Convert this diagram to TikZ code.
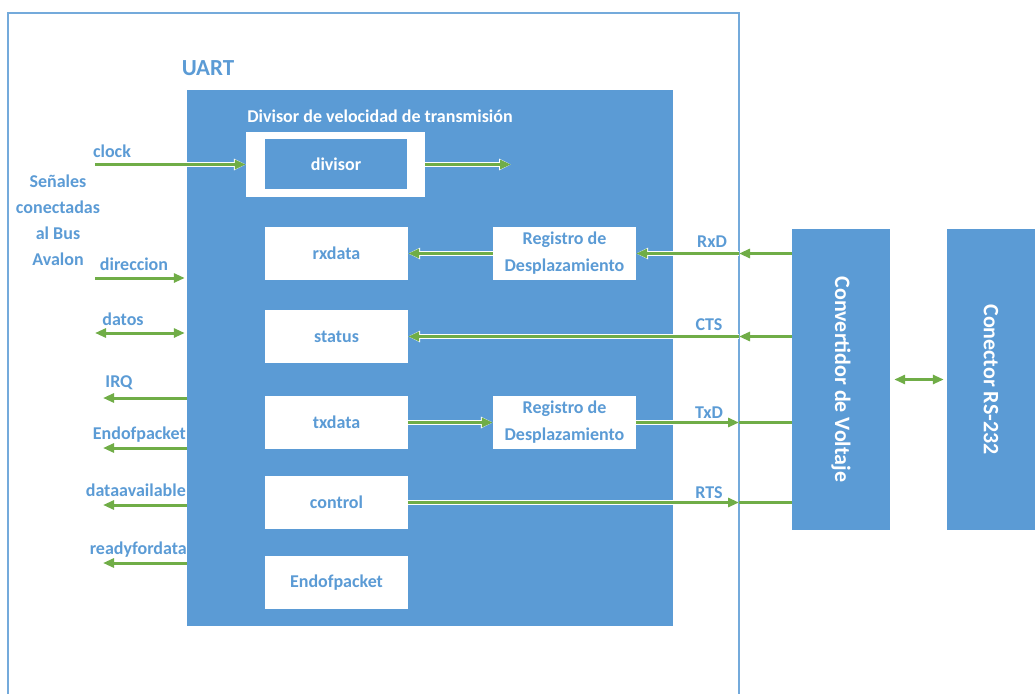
\documentclass[tikz,border=0pt]{standalone}
\usepackage{fontspec}
\setmainfont{Carlito}
\usetikzlibrary{arrows.meta}
\definecolor{bl}{HTML}{5B9BD5}
\definecolor{gr}{HTML}{70AD47}
\begin{document}
\begin{tikzpicture}[x=1pt,y=-1pt,
  fnt/.style={font=\bfseries\fontsize{18}{27}\selectfont},
  lbl/.style={fnt, text=bl, inner sep=0pt},
  blk/.style={fill=bl, draw=none, inner sep=0pt},
  wbox/.style={fnt, fill=white, draw=none, text=bl, minimum width=143pt, minimum height=53pt, inner sep=0pt, align=center},
  bbox/.style={fnt, fill=bl, draw=none, text=white, inner sep=0pt},
  lineg/.style={draw=gr, line width=3pt},
  arr/.style={lineg, -{Triangle[length=11pt,width=9pt]}, preaction={draw=white, line width=4.6pt, -{Triangle[length=12pt,width=11pt]}}},
  darr/.style={lineg, {Triangle[length=11pt,width=9pt]}-{Triangle[length=11pt,width=9pt]}},
  frame/.style={draw=bl!85, line width=1.3pt}
]
\useasboundingbox (0,0) rectangle (1035,693);
\draw[frame] (8,700) -- (8,13) -- (739,13) -- (739,700);

% main UART block
\node[blk, minimum width=486pt, minimum height=536pt] (uart) at (430,358) {};
\node[lbl, font=\bfseries\fontsize{23}{27}\selectfont] (uartlbl) at (208,68) {UART};

% divisor
\node[fnt, text=white, inner sep=0pt] (divt) at (380,116) {Divisor de velocidad de transmisión};
\node[fill=white, minimum width=179pt, minimum height=65pt, inner sep=0pt] (divo) at (335.5,164.5) {};
\node[bbox, minimum width=142pt, minimum height=50pt] (div) at (336,164) {divisor};

% registers
\node[wbox] (rx)  at (336.5,253.5) {rxdata};
\node[wbox] (st)  at (336.5,336.5) {status};
\node[wbox] (tx)  at (336.5,422.5) {txdata};
\node[wbox] (ctl) at (336.5,502.5) {control};
\node[wbox] (eop) at (336.5,582.5) {Endofpacket};
\node[wbox] (reg1) at (564.5,253.5) {Registro de\\Desplazamiento};
\node[wbox] (reg2) at (564.5,422.5) {Registro de\\Desplazamiento};

% right blocks (rotated: south = left side, north = right side)
\node[bbox, font=\bfseries\fontsize{22}{26}\selectfont, minimum width=301pt, minimum height=98pt, rotate=-90] (conv) at (841,379.5) {Convertidor de Voltaje};
\node[bbox, font=\bfseries\fontsize{22}{26}\selectfont, minimum width=301pt, minimum height=88pt, rotate=-90] (con) at (991,379.5) {Conector RS-232};
\draw[darr, shorten <=4pt, shorten >=3pt] (conv.north) -- (con.south);

% right labels
\node[lbl] (lrxd) at (712,242) {RxD};
\node[lbl] (lcts) at (709,325) {CTS};
\node[lbl] (ltxd) at (709,413) {TxD};
\node[lbl] (lrts) at (709,493) {RTS};

% right connectors
\coordinate (rxb)  at (739,253.5);
\coordinate (ctsb) at (739,336.5);
\coordinate (txb)  at (739,422.5);
\coordinate (rtsb) at (739,502.5);
\draw[arr] (conv.south |- rxb) -- (rxb);
\draw[arr] (rxb) -- (reg1.east);
\draw[arr] (reg1.west) -- (rx.east);
\draw[arr] (conv.south |- ctsb) -- (ctsb);
\draw[arr] (ctsb) -- (st.east);
\draw[arr] (tx.east) -- (reg2.west);
\draw[arr] (reg2.east) -- (txb);
\draw[lineg] (txb) -- (conv.south |- txb);
\draw[arr] (ctl.east) -- (rtsb);
\draw[lineg] (rtsb) -- (conv.south |- rtsb);

% divisor connectors
\coordinate (clk) at (95,164.5);
\coordinate (divout) at (511,164.5);
\draw[arr] (clk) -- (divo.west);
\draw[arr] (divo.east) -- (divout);

% left labels
\node[lbl] (lclock) at (112,151) {clock};
\node[lbl, align=center, font=\bfseries\fontsize{18}{26}\selectfont] (lsen) at (58,220) {Señales\\conectadas\\al Bus\\Avalon};
\node[lbl] (ldir) at (134,264) {direccion};
\node[lbl] (ldat) at (123,319) {datos};
\node[lbl] (lirq) at (119,383) {IRQ};
\node[lbl, anchor=east] (leop) at (186,435) {Endofpacket};
\node[lbl, anchor=east] (ldav) at (186,490) {dataavailable};
\node[lbl, anchor=east] (lrdy) at (187,550) {readyfordata};

% left connectors
\coordinate (dirA) at (95,278);
\coordinate (datA) at (95,333);
\coordinate (irqA) at (103,398);
\coordinate (eopA) at (103,448);
\coordinate (davA) at (103,505);
\coordinate (rdyA) at (103,563);
\draw[arr] (dirA) -- ([xshift=-2pt]dirA -| uart.west);
\draw[darr] (datA) -- ([xshift=-2pt]datA -| uart.west);
\draw[arr] (irqA -| uart.west) -- (irqA);
\draw[arr] (eopA -| uart.west) -- (eopA);
\draw[arr] (davA -| uart.west) -- (davA);
\draw[arr] (rdyA -| uart.west) -- (rdyA);
\end{tikzpicture}
\end{document}
